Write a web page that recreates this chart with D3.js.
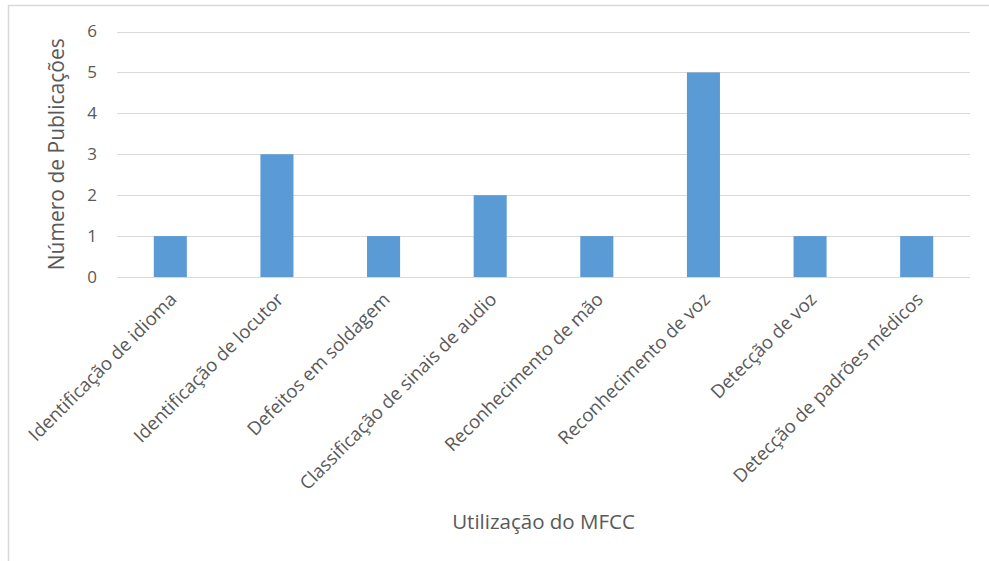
<!DOCTYPE html>
<html>
<head>
<meta charset="utf-8">
<script src="https://cdn.jsdelivr.net/npm/d3@7"></script>
<style>
  html, body { margin: 0; padding: 0; background: #fff; }
  svg { display: block; }
  text { font-family: "Open Sans", "Liberation Sans", sans-serif; fill: #595959; }
</style>
</head>
<body>
<svg id="chart" width="989" height="561"></svg>
<script>
// Uses of MFCC and the number of publications for each
const categories = [
  "Identificação de idioma",
  "Identificação de locutor",
  "Defeitos em soldagem",
  "Classificação de sinais de audio",
  "Reconhecimento de mão",
  "Reconhecimento de voz",
  "Detecção de voz",
  "Detecção de padrões médicos"
];
const publications = [1, 3, 1, 2, 1, 5, 1, 1];
const yTicks = [0, 1, 2, 3, 4, 5, 6];
const xTitle = "Utilização do MFCC";
const yTitle = "Número de Publicações";

const svg = d3.select("#chart");
const W = 989, H = 561;
const plot = { left: 117, right: 970, top: 31.5, bottom: 277 };

// chart frame
svg.append("rect")
  .attr("x", 8.5).attr("y", 5.5)
  .attr("width", W + 10).attr("height", H + 10)
  .attr("fill", "#fff")
  .attr("stroke", "#d9d9d9").attr("stroke-width", 1.5);

const x = d3.scaleBand().domain(categories).range([plot.left, plot.right]).padding(0);
const y = d3.scaleLinear().domain([0, 6]).range([plot.bottom, plot.top]);

// gridlines
svg.append("g")
  .selectAll("line")
  .data(yTicks)
  .join("line")
  .attr("x1", plot.left).attr("x2", plot.right)
  .attr("y1", d => Math.round(y(d)) + 0.5).attr("y2", d => Math.round(y(d)) + 0.5)
  .attr("stroke", "#d9d9d9").attr("stroke-width", 1);

// y axis labels
const yAxis = d3.axisLeft(y).tickValues(yTicks).tickSize(0).tickPadding(20).tickFormat(d3.format("d"));
svg.append("g")
  .attr("transform", `translate(${plot.left},0)`)
  .call(yAxis)
  .call(g => g.select(".domain").remove())
  .call(g => g.selectAll("text")
    .style("font-family", "'Open Sans', sans-serif")
    .attr("fill", "#595959")
    .attr("font-size", 17));

// bars
const barW = x.bandwidth() * 0.31;
svg.append("g")
  .selectAll("rect")
  .data(categories.map((c, i) => ({ c, v: publications[i] })))
  .join("rect")
  .attr("x", d => x(d.c) + (x.bandwidth() - barW) / 2)
  .attr("y", d => y(d.v))
  .attr("width", barW)
  .attr("height", d => y(0) - y(d.v))
  .attr("fill", "#5b9bd5");

// rotated category labels
svg.append("g")
  .selectAll("text")
  .data(categories)
  .join("text")
  .attr("transform", d => `translate(${x(d) + x.bandwidth() / 2 + 3},${plot.bottom + 19}) rotate(-45)`)
  .attr("text-anchor", "end")
  .attr("dy", "0.35em")
  .attr("font-size", 18.5)
  .text(d => d);

// axis titles
svg.append("text")
  .attr("x", (plot.left + plot.right) / 2)
  .attr("y", 529)
  .attr("text-anchor", "middle")
  .attr("font-size", 20.5)
  .text(xTitle);

svg.append("text")
  .attr("transform", `translate(64,${(plot.top + plot.bottom) / 2}) rotate(-90)`)
  .attr("text-anchor", "middle")
  .attr("font-size", 21)
  .text(yTitle);
</script>
</body>
</html>
